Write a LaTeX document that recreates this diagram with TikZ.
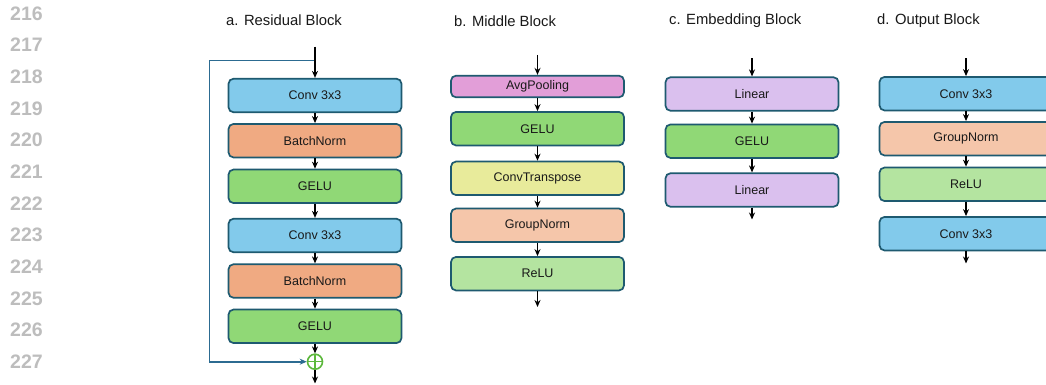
\documentclass[tikz,border=0pt]{standalone}
\usepackage{fontspec}
\setmainfont{Liberation Sans}
\usetikzlibrary{arrows.meta}

\definecolor{edgeteal}{HTML}{1E5A70}
\definecolor{skipblue}{HTML}{2C6B91}
\definecolor{addgreen}{HTML}{5CB83C}
\definecolor{linegray}{HTML}{BDBDBD}
\definecolor{convblue}{HTML}{82CAEB}
\definecolor{bnsalmon}{HTML}{F0AA82}
\definecolor{gelugreen}{HTML}{90D876}
\definecolor{poolpink}{HTML}{E29ED8}
\definecolor{ctyellow}{HTML}{E8EB9B}
\definecolor{gnpeach}{HTML}{F5C6AA}
\definecolor{relugreen}{HTML}{B4E4A0}
\definecolor{linlav}{HTML}{DAC0EE}

\tikzset{
  layer/.style={draw=edgeteal, line width=1.7pt, rounded corners=5pt,
    fill=#1, minimum width=173pt, minimum height=33.5pt, inner sep=0pt,
    text=black!90, font=\fontsize{12.5}{14}\selectfont},
  flow/.style={-{Stealth[length=7pt,width=6pt]}, line width=1.5pt, black},
  skip/.style={-{Stealth[length=7pt,width=6pt]}, line width=1.6pt, skipblue},
  title/.style={anchor=base west, inner sep=0pt, text=black!90,
    font=\fontsize{14.8}{17}\selectfont},
  lineno/.style={anchor=west, inner sep=0pt, text=linegray,
    font=\fontsize{19.5}{22}\selectfont\bfseries},
  addop/.style={circle, draw=addgreen, line width=1.6pt, fill=white,
    minimum size=15pt, inner sep=0pt,
    path picture={\draw[addgreen, line width=1.5pt]
      (path picture bounding box.north) -- (path picture bounding box.south)
      (path picture bounding box.west) -- (path picture bounding box.east);}}
}

\begin{document}
\begin{tikzpicture}[x=1pt, y=-1pt]
\clip (0,0) rectangle (1046,385);
\fill[white] (0,0) rectangle (1046,385);

% line numbers in the margin
\foreach \n [count=\k from 0] in {216,...,227}
  \node[lineno] (ln\n) at (10, 13.5+31.65*\k) {\n};

% ---------------- a. Residual Block ----------------
\node[title] (ta) at (226,26) {a. Residual Block};
\coordinate (ain) at (315,46.7);
\coordinate (abr) at (315,60.7);
\node[layer=convblue]  (a1) at (315,95.5)  {Conv 3x3};
\node[layer=bnsalmon]  (a2) at (315,140.7) {BatchNorm};
\node[layer=gelugreen] (a3) at (315,186.3) {GELU};
\node[layer=convblue]  (a4) at (315,235.5) {Conv 3x3};
\node[layer=bnsalmon]  (a5) at (315,281)   {BatchNorm};
\node[layer=gelugreen] (a6) at (315,326.3) {GELU};
\node[addop] (add) at (315,361.7) {};
\coordinate (aout) at (315,383.5);
\coordinate (sk1) at (209.3,60.7);
\coordinate (sk2) at (209.3,361.7);

\draw[skip] (abr) -- (sk1) -- (sk2) -- (add.west);
\draw[flow] (ain) -- (a1.north);
\draw[flow] (a1) -- (a2);
\draw[flow] (a2) -- (a3);
\draw[flow] (a3) -- (a4);
\draw[flow] (a4) -- (a5);
\draw[flow] (a5) -- (a6);
\draw[flow] (a6) -- (add);
\draw[flow] (add) -- (aout);

% ---------------- b. Middle Block ----------------
\node[title] (tb) at (454,26.5) {b. Middle Block};
\coordinate (bin) at (537.5,55);
\node[layer=poolpink, minimum height=21.6pt] (b1) at (537.5,86.5) {AvgPooling};
\node[layer=gelugreen] (b2) at (537.5,128.7) {GELU};
\node[layer=ctyellow]  (b3) at (537.5,178.3) {ConvTranspose};
\node[layer=gnpeach]   (b4) at (537.5,225.3) {GroupNorm};
\node[layer=relugreen] (b5) at (537.5,273.7) {ReLU};
\coordinate (bout) at (537.5,307);
\draw[flow] (bin) -- (b1.north);
\draw[flow] (b1) -- (b2);
\draw[flow] (b2) -- (b3);
\draw[flow] (b3) -- (b4);
\draw[flow] (b4) -- (b5);
\draw[flow] (b5) -- (bout);

% ---------------- c. Embedding Block ----------------
\node[title] (tc) at (669,24.5) {c. Embedding Block};
\coordinate (cin) at (752,58.3);
\node[layer=linlav]    (c1) at (752,94)    {Linear};
\node[layer=gelugreen] (c2) at (752,141.2) {GELU};
\node[layer=linlav]    (c3) at (752,190)   {Linear};
\coordinate (cout) at (752,219.5);
\draw[flow] (cin) -- (c1.north);
\draw[flow] (c1) -- (c2);
\draw[flow] (c2) -- (c3);
\draw[flow] (c3) -- (cout);

% ---------------- d. Output Block ----------------
\node[title] (td) at (877,24.5) {d. Output Block};
\coordinate (din) at (966,58.3);
\node[layer=convblue]  (d1) at (966,93.7)  {Conv 3x3};
\node[layer=gnpeach]   (d2) at (966,138.7) {GroupNorm};
\node[layer=relugreen] (d3) at (966,184.3) {ReLU};
\node[layer=convblue]  (d4) at (966,233.7) {Conv 3x3};
\coordinate (dout) at (966,263.5);
\draw[flow] (din) -- (d1.north);
\draw[flow] (d1) -- (d2);
\draw[flow] (d2) -- (d3);
\draw[flow] (d3) -- (d4);
\draw[flow] (d4) -- (dout);
\end{tikzpicture}
\end{document}
